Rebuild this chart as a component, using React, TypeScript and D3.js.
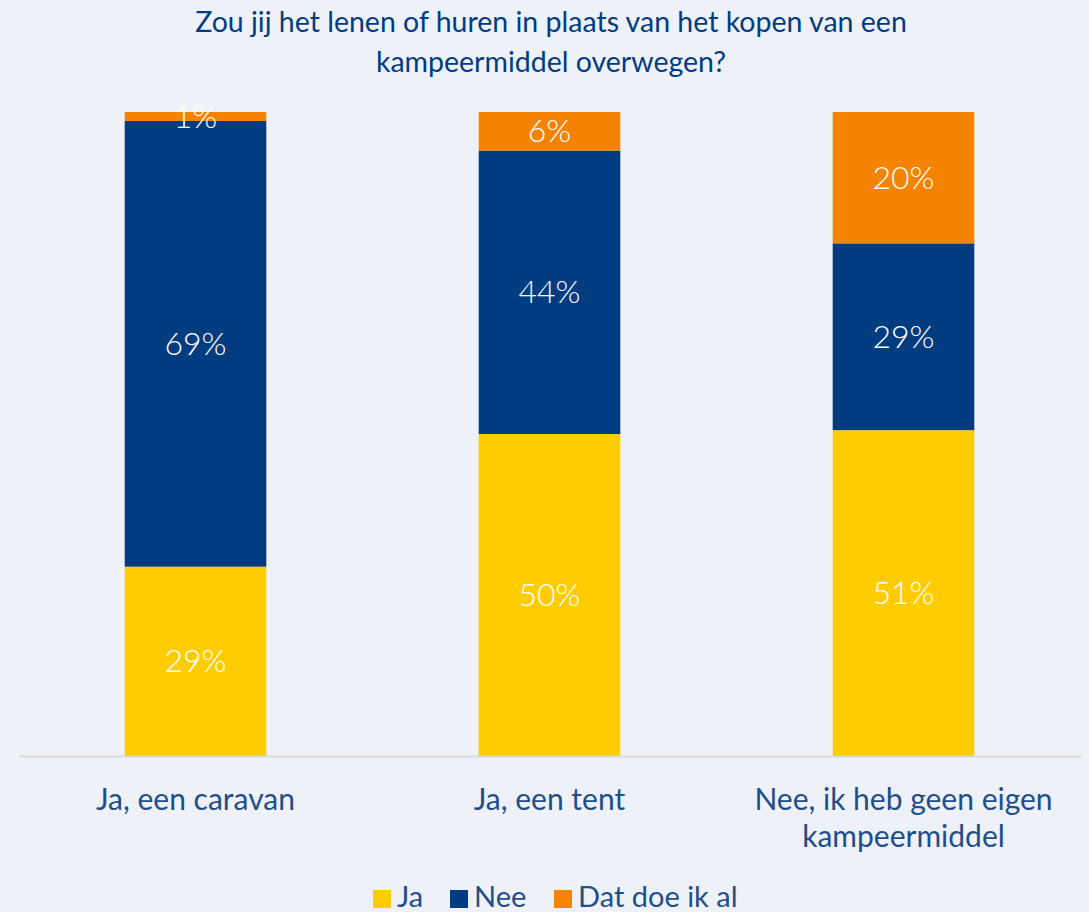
import React, { useEffect, useRef } from "react";
import * as d3 from "d3";

const categories = ["Ja, een caravan", "Ja, een tent", "Nee, ik heb geen eigen|kampeermiddel"];
const seriesNames = ["Ja", "Nee", "Dat doe ik al"];
const jaValues = [29.4, 50.0, 50.6];
const neeValues = [69.2, 44.0, 29.0];
const alValues = [1.4, 6.0, 20.4];
const labelJa = ["29%", "50%", "51%"];
const labelNee = ["69%", "44%", "29%"];
const labelAl = ["1%", "6%", "20%"];
const colors = ["#FFCC00", "#003C7F", "#F48300"];

const W = 1089;
const H = 912;
const font = "Lato, 'Open Sans', sans-serif";

const App = () => {
  const ref = useRef<SVGSVGElement>(null);
  useEffect(() => {
    const svg = d3.select(ref.current);
    svg.selectAll("*").remove();
    svg.append("rect").attr("width", W).attr("height", H).attr("fill", "#EEF2F8");

    const x = d3.scaleBand().domain(categories).range([18.5, 1080.5]).paddingInner(0.6).paddingOuter(0.3);
    const y = d3.scaleLinear().domain([0, 100]).range([756, 112]);

    const rows = categories.map((c, i) => ({ cat: c, Ja: jaValues[i], Nee: neeValues[i], Al: alValues[i], i }));
    const stack = d3.stack<any>().keys(["Ja", "Nee", "Al"]);
    const series = stack(rows);
    const labels = [labelJa, labelNee, labelAl];

    // title
    const title = svg.append("text").attr("text-anchor", "middle").attr("fill", "#003C82")
      .style("font-family", font).style("font-size", "28.5px");
    title.append("tspan").attr("x", 551).attr("y", 32).text("Zou jij het lenen of huren in plaats van het kopen van een");
    title.append("tspan").attr("x", 551).attr("y", 72).text("kampeermiddel overwegen?");

    series.forEach((s, si) => {
      svg.append("g").selectAll("rect").data(s).enter().append("rect")
        .attr("x", (d) => x(d.data.cat)!)
        .attr("width", x.bandwidth())
        .attr("y", (d) => y(d[1]))
        .attr("height", (d) => y(d[0]) - y(d[1]))
        .attr("fill", colors[si]);
      svg.append("g").selectAll("text").data(s).enter().append("text")
        .attr("x", (d) => x(d.data.cat)! + x.bandwidth() / 2)
        .attr("y", (d) => (y(d[0]) + y(d[1])) / 2 + 11)
        .attr("text-anchor", "middle")
        .attr("fill", "#FFFFFF")
        .style("font-family", font).style("font-weight", 300).style("font-size", "32px")
        .text((d) => labels[si][d.data.i]);
    });

    // axis line
    svg.append("line").attr("x1", 19).attr("x2", 1081).attr("y1", 756.5).attr("y2", 756.5)
      .attr("stroke", "#D9D9D9").attr("stroke-width", 2);

    categories.forEach((c) => {
      const t = svg.append("text").attr("text-anchor", "middle").attr("fill", "#1F4E8C")
        .style("font-family", font).style("font-size", "30px");
      c.split("|").forEach((line, li) => {
        t.append("tspan").attr("x", x(c)! + x.bandwidth() / 2).attr("y", 810 + li * 37).text(line);
      });
    });

    // legend
    const legX = [373, 450, 554];
    seriesNames.forEach((n, i) => {
      svg.append("rect").attr("x", legX[i]).attr("y", 890).attr("width", 18).attr("height", 18).attr("fill", colors[i]);
      svg.append("text").attr("x", legX[i] + 24).attr("y", 907).attr("fill", "#1F4E8C")
        .style("font-family", font).style("font-size", "29px").text(n);
    });
  }, []);
  return <svg ref={ref} width={W} height={H} style={{ position: "absolute", left: 0, top: 0 }} />;
};

export default App;
